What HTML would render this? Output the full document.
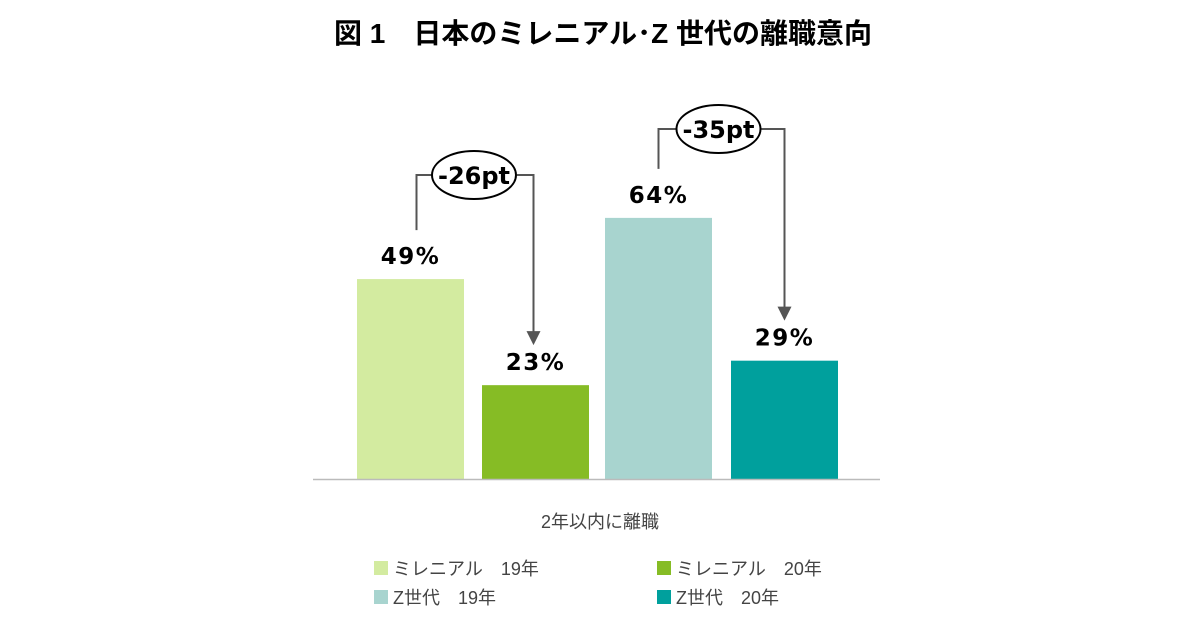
<!DOCTYPE html>
<html><head><meta charset="utf-8"><style>
body{margin:0;background:#fff;width:1200px;height:630px;overflow:hidden}
svg text{font-family:"Liberation Sans","Noto Sans CJK JP",sans-serif}
</style></head><body>
<svg width="1200" height="630" xmlns="http://www.w3.org/2000/svg">
<text x="603" y="43" text-anchor="middle" font-size="28" font-weight="bold" fill="#000">図 1　日本のミレニアル･Z 世代の離職意向</text>
<g id="bars"></g>
<line x1="313" y1="479.5" x2="880" y2="479.5" stroke="#bbb" stroke-width="1.5"/>
<g id="ann" fill="none" stroke="#555" stroke-width="2"></g>
<text x="600" y="528" text-anchor="middle" font-size="18" fill="#444">2年以内に離職</text>
<g id="legend"></g>
</svg>
<script>
const categories=["ミレニアル　19年","ミレニアル　20年","Z世代　19年","Z世代　20年"];
const values=[49,23,64,29];
const colors=["#d3eba0","#86bc25","#a8d4cf","#00a09d"];
const diffs=["-26pt","-35pt"];
const NS="http://www.w3.org/2000/svg";
const base=479, k=4.08;
const y=v=>base-v*k;
const xs=[357,482,605,731], w=107;
const bars=document.getElementById('bars');
function mk(t,a,p){const e=document.createElementNS(NS,t);for(const n in a)e.setAttribute(n,a[n]);p.appendChild(e);return e;}
values.forEach((v,i)=>{
  const r=mk('rect',{x:xs[i],y:y(v),width:w,height:v*k,fill:colors[i]},bars);
  
  
  const t=mk('text',{x:xs[i]+w/2,y:y(v)-15,'text-anchor':'middle','font-size':'23','font-weight':'bold',fill:'#000',style:'font-family:"DejaVu Sans",sans-serif;letter-spacing:1.5px'},bars);
  t.textContent=v+'%';
  
  
});
const ann=document.getElementById('ann');
[0,1].forEach(j=>{
  const a=j*2,b=a+1;
  const lx=xs[a]+w/2+(j?0:6), rx=xs[b]+w/2-(j?0:2);
  const ty=j?129:175;
  const ly=y(values[a])-49;
  const cx=(lx+rx)/2+(j?-3:-1);
  const g=mk('g',{},ann);
  
  
  mk('path',{d:`M${lx} ${ly} V${ty} H${cx-42}`},g);
  const arrowTip=y(values[b])-40;
  mk('path',{d:`M${cx+43} ${ty} H${rx} V${arrowTip-12}`},g);
  mk('path',{d:`M${rx-7} ${arrowTip-14} L${rx+7} ${arrowTip-14} L${rx} ${arrowTip} Z`,fill:'#555',stroke:'none'},g);
  mk('ellipse',{cx:cx,cy:ty,rx:42,ry:24,stroke:'#000','stroke-width':'2',fill:'#fff'},g);
  const t=mk('text',{x:cx,y:ty+9,'text-anchor':'middle','font-size':'24','font-weight':'bold',fill:'#000',stroke:'none',style:'font-family:"DejaVu Sans",sans-serif'},g);
  t.textContent=diffs[j];
});
const lg=document.getElementById('legend');
const lpos=[[374,561],[657,561],[374,590],[657,590]];
categories.forEach((c,i)=>{
  const g=mk('g',{},lg);
  
  
  mk('rect',{x:lpos[i][0],y:lpos[i][1],width:14,height:14,fill:colors[i]},g);
  const t=mk('text',{x:lpos[i][0]+19,y:lpos[i][1]+14,'font-size':'18',fill:'#444'},g);
  t.textContent=c;
});
</script>
</body></html>
